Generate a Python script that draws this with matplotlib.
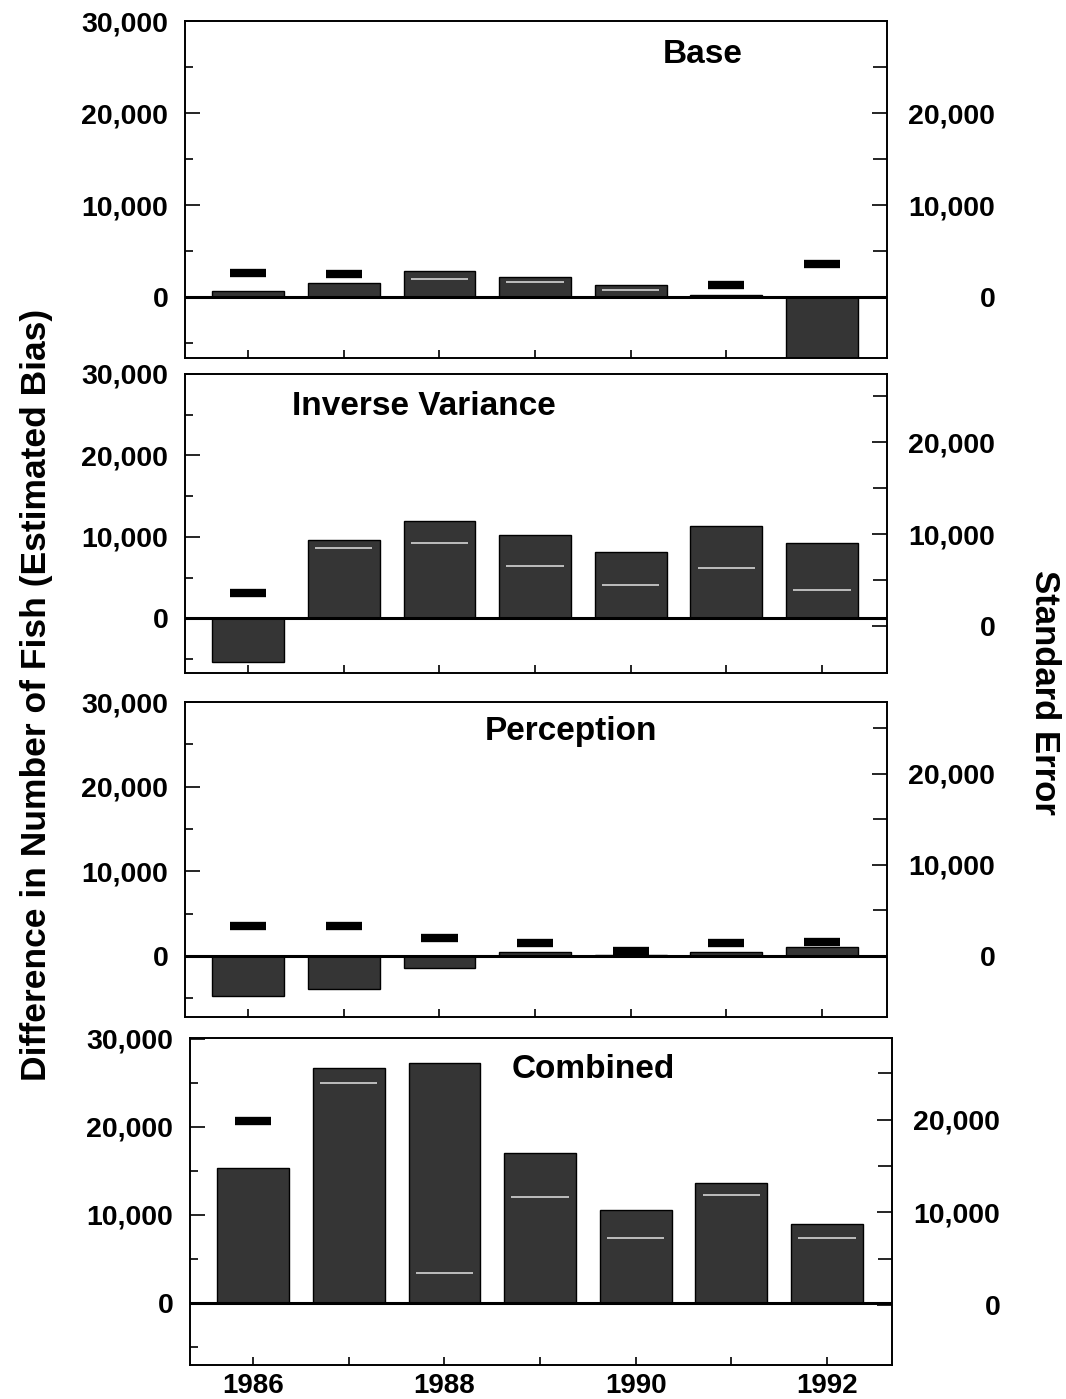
import matplotlib
matplotlib.use("Agg")
import matplotlib.pyplot as plt
from matplotlib.ticker import FixedLocator, FuncFormatter
import numpy as np

plt.rcParams['font.family'] = ['Liberation Sans', 'DejaVu Sans']
plt.rcParams['font.weight'] = 'bold'

# ---- data -------------------------------------------------------------
years = [1986, 1987, 1988, 1989, 1990, 1991, 1992]
year_labels = ["1986", "", "1988", "", "1990", "", "1992"]

panel_names = ["Base", "Inverse Variance", "Perception", "Combined"]

# estimated bias (difference in number of fish)
base_bias = [650, 1500, 2900, 2200, 1300, 200, -9000]
inv_bias = [-5300, 9600, 12000, 10200, 8100, 11400, 9300]
perc_bias = [-4700, -3900, -1400, 470, 100, 470, 1060]
comb_bias = [15300, 26700, 27300, 17000, 10600, 13600, 9000]

# standard error of the estimate
base_se = [2600, 2500, 2000, 1600, 800, 1300, 3600]
inv_se = [3600, 8500, 9000, 6500, 4500, 6300, 3900]
perc_se = [3300, 3300, 2000, 1400, 600, 1400, 1500]
comb_se = [19900, 24000, 3500, 11700, 7200, 11900, 7200]

left_ticks = [0, 10000, 20000, 30000]
right_ticks = [0, 10000, 20000]

# ---- layout (pixel boxes of each panel) ------------------------------
W, H = 1066, 1399
boxes = [(185, 887, 21, 358), (185, 887, 374, 673),
         (185, 887, 702, 1017), (190, 892, 1038, 1365)]
left_lims = [(-6600, 30000), (-6700, 30000), (-7200, 30000), (-7050, 30100)]
right_lims = [(-6600, 30000), (-5100, 27400), (-6700, 27900), (-6480, 28830)]
title_pos = [(0.738, 0.90), (0.34, 0.89), (0.55, 0.905), (0.574, 0.905)]

bias_sets = [base_bias, inv_bias, perc_bias, comb_bias]
se_sets = [base_se, inv_se, perc_se, comb_se]

BAR = "#353535"
fmt = FuncFormatter(lambda v, p: f"{int(v):,}")

fig = plt.figure(figsize=(W / 100, H / 100), dpi=100)

for i in range(4):
    x0, x1, y0, y1 = boxes[i]
    ax = fig.add_axes([x0 / W, 1 - y1 / H, (x1 - x0) / W, (y1 - y0) / H])
    ax2 = ax.twinx()

    bias = np.array(bias_sets[i], dtype=float)
    se = np.array(se_sets[i], dtype=float)
    yrs = np.array(years, dtype=float)

    ax.bar(yrs, bias, width=0.75, color=BAR, edgecolor="black",
           linewidth=1.0, zorder=2)
    ax.axhline(0, color="black", linewidth=2.2, zorder=3)

    ax.set_xlim(1985.34, 1992.68)
    ax.set_ylim(*left_lims[i])
    ax2.set_ylim(*right_lims[i])

    # standard error marks: dark dashes above bars, light ones inside bars
    hidden = (bias > 0) & (se < bias)
    ax2.hlines(se[~hidden], yrs[~hidden] - 0.19, yrs[~hidden] + 0.19,
               color="black", linewidth=6, zorder=4)
    ax2.hlines(se[hidden], yrs[hidden] - 0.3, yrs[hidden] + 0.3,
               color="#c8c8c8", linewidth=1.3, zorder=4)

    # left axis
    ax.yaxis.set_major_locator(FixedLocator(left_ticks))
    ax.yaxis.set_minor_locator(FixedLocator([-5000, 5000, 15000, 25000]))
    ax.yaxis.set_major_formatter(fmt)
    ax.tick_params(axis="y", which="major", direction="in", length=11,
                   width=1.2, labelsize=20.5, pad=12)
    ax.tick_params(axis="y", which="minor", direction="in", length=6,
                   width=1.2)

    # x axis
    ax.set_xticks(years)
    ax.tick_params(axis="x", which="major", direction="in", length=6,
                   width=1.2, labelsize=20, pad=6)
    if i == 3:
        ax.set_xticklabels(year_labels)
    else:
        ax.set_xticklabels([])

    # right axis
    ax2.yaxis.set_major_locator(FixedLocator(right_ticks))
    ax2.yaxis.set_minor_locator(FixedLocator([5000, 15000, 25000]))
    ax2.yaxis.set_major_formatter(fmt)
    ax2.tick_params(axis="y", which="major", direction="in", length=11,
                    width=1.2, labelsize=20.5, pad=78)
    ax2.tick_params(axis="y", which="minor", direction="in", length=10,
                    width=1.2)
    for lab in ax2.get_yticklabels():
        lab.set_horizontalalignment("right")

    for a in (ax, ax2):
        for s in a.spines.values():
            s.set_linewidth(1.2)

    tx, ty = title_pos[i]
    ax.text(tx, ty, panel_names[i], transform=ax.transAxes, ha="center",
            va="center", fontsize=24, zorder=5)

fig.text(0.034, 0.503, "Difference in Number of Fish (Estimated Bias)",
         rotation=90, ha="center", va="center", fontsize=25.5)
fig.text(0.980, 0.505, "Standard Error", rotation=270, ha="center",
         va="center", fontsize=25)

fig.savefig("out.png", dpi=100)
